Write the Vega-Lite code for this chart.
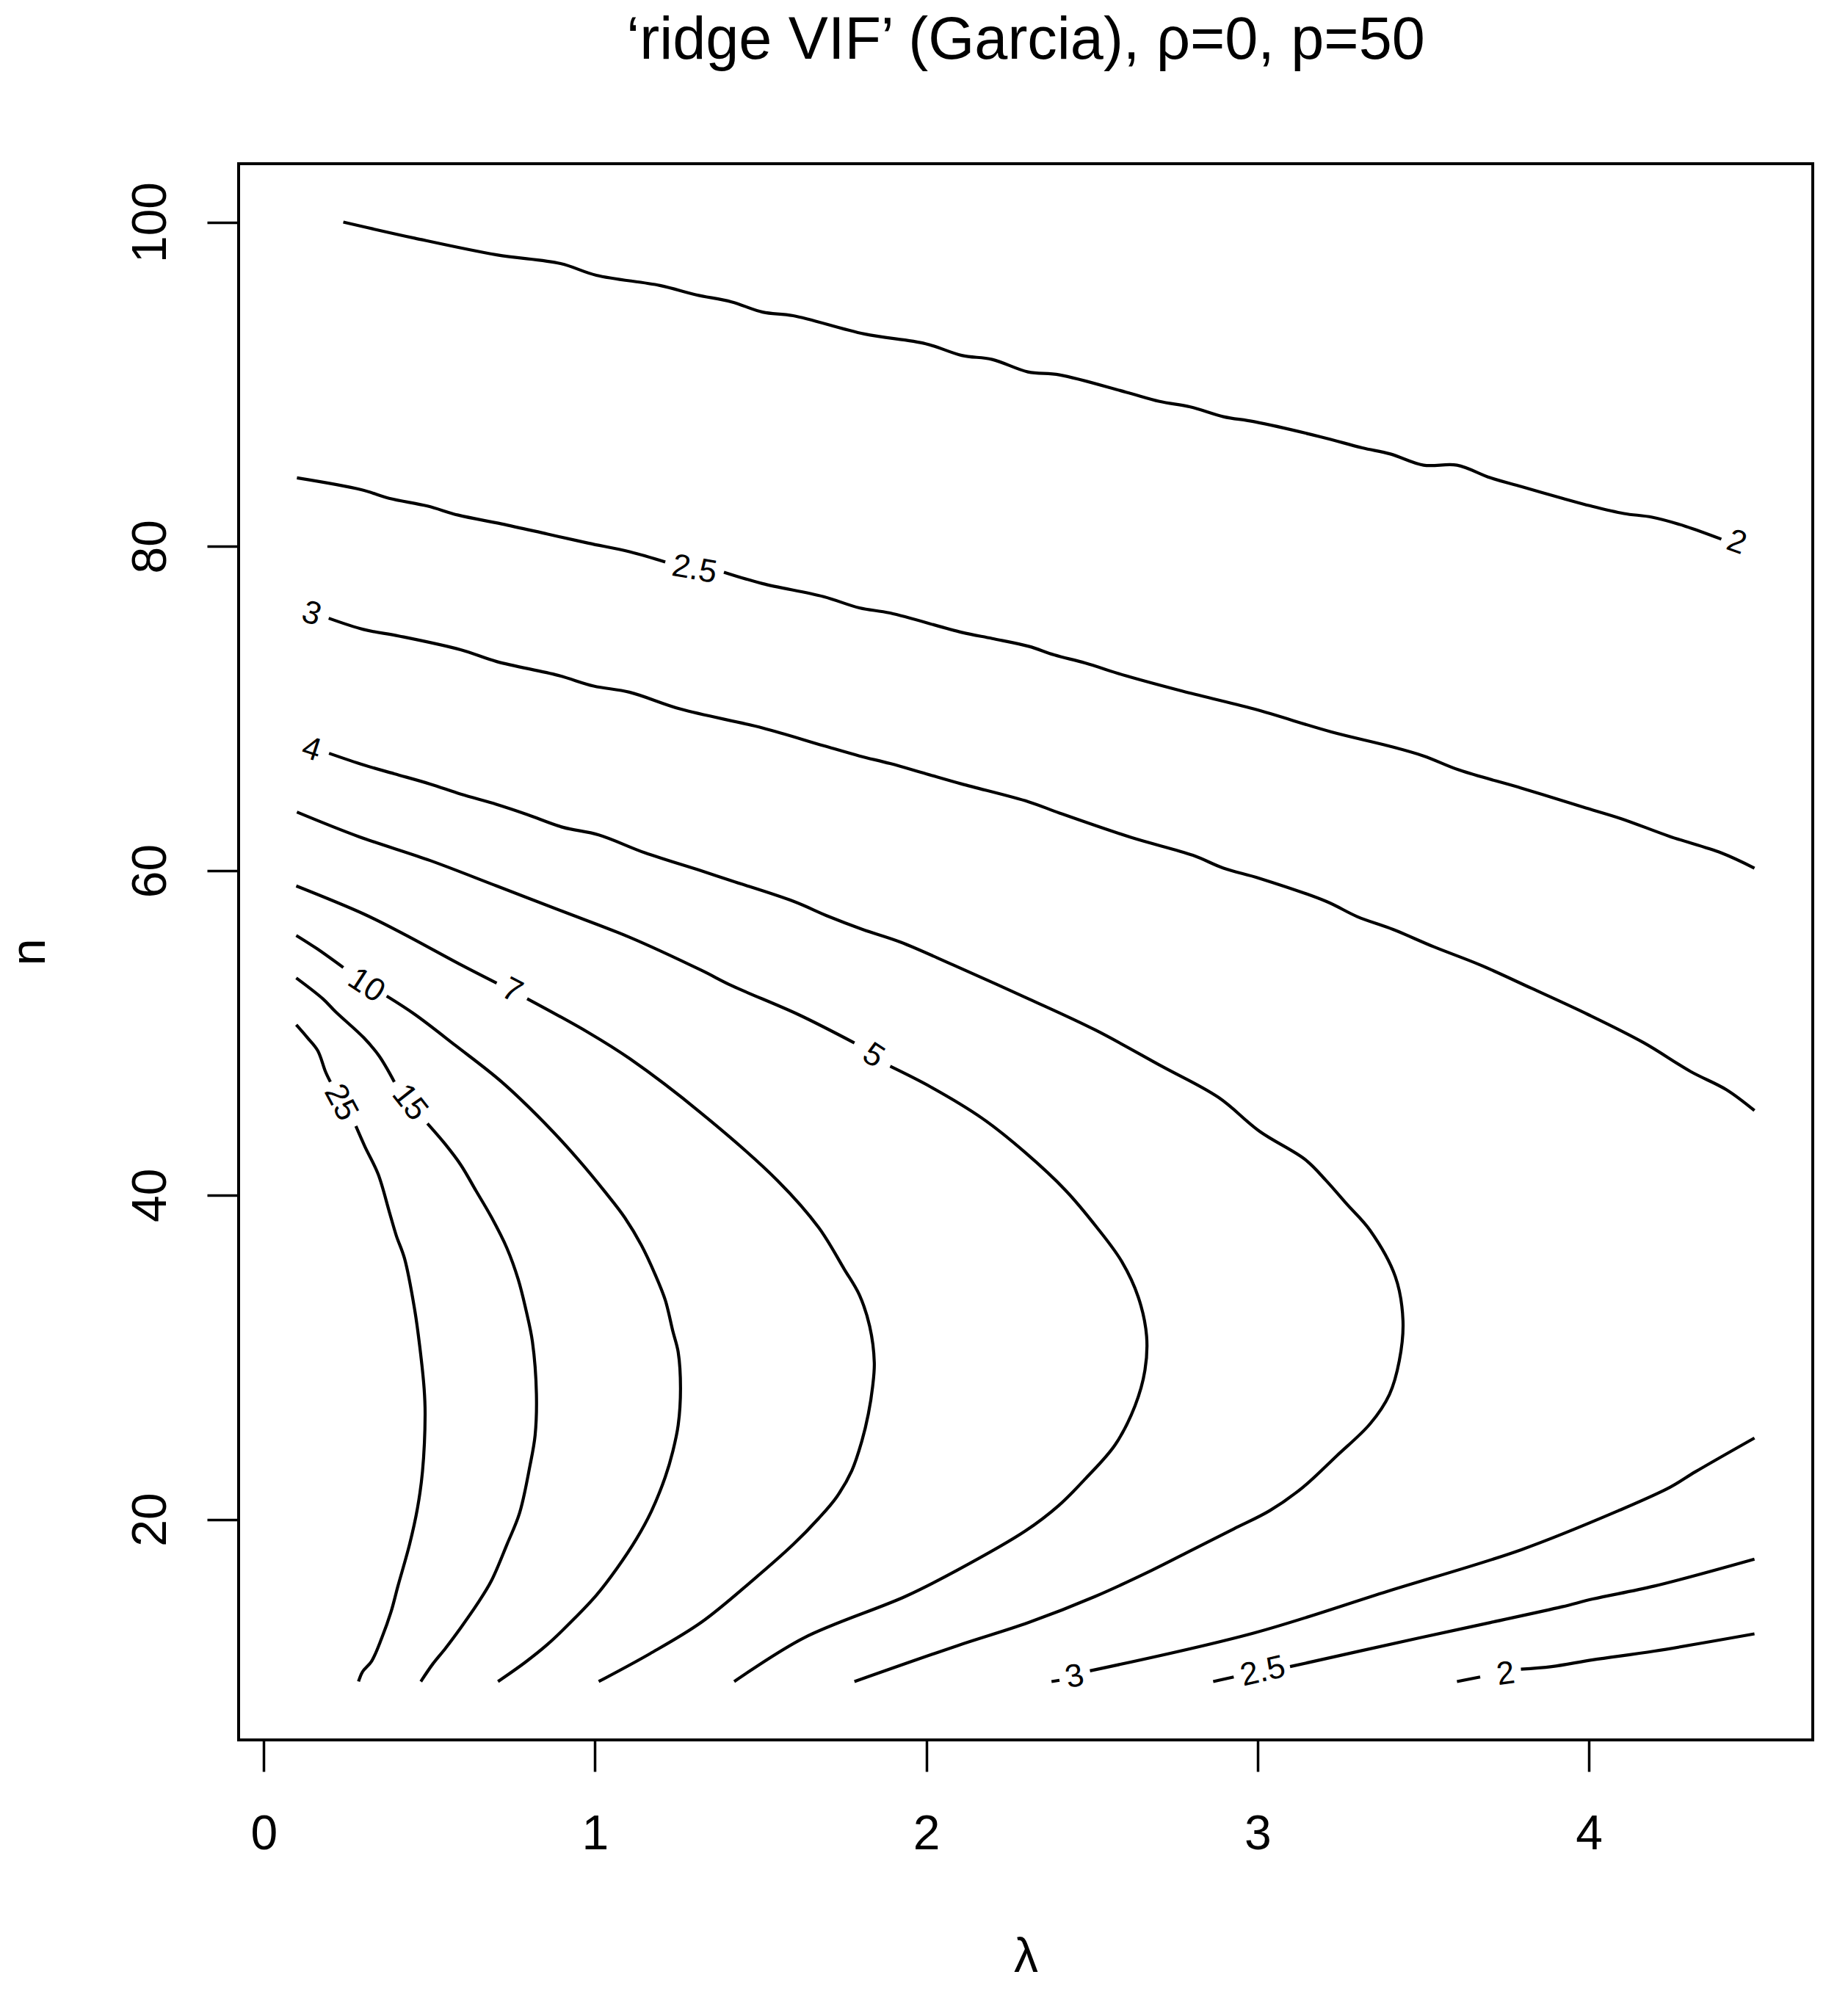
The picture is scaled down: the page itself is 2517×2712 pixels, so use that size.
{
  "$schema": "https://vega.github.io/schema/vega-lite/v6.json",
  "width": 2144,
  "height": 2147,
  "autosize": {"type": "none"},
  "padding": {"left": 325, "top": 223, "right": 48, "bottom": 342},
  "background": "white",
  "config": {"view": {"stroke": "black", "strokeWidth": 4}, "font": "Liberation Sans"},
  "title": {"text": "‘ridge VIF’ (Garcia), ρ=0, p=50", "fontSize": 81, "fontWeight": "normal", "font": "Liberation Sans", "color": "black", "anchor": "middle", "frame": "group", "baseline": "alphabetic", "offset": 62},
  "datasets": {
    "lines": [
      {"seg":"A","i":0,"lambda":0.240,"n":100.0},{"seg":"A","i":1,"lambda":0.455,"n":99.01},{"seg":"A","i":2,"lambda":0.703,"n":97.98},{"seg":"A","i":3,"lambda":0.896,"n":97.44},{"seg":"A","i":4,"lambda":1.004,"n":96.72},{"seg":"A","i":5,"lambda":1.196,"n":96.09},{"seg":"A","i":6,"lambda":1.304,"n":95.52},{"seg":"A","i":7,"lambda":1.412,"n":95.08},{"seg":"A","i":8,"lambda":1.506,"n":94.45},{"seg":"A","i":9,"lambda":1.598,"n":94.23},{"seg":"A","i":10,"lambda":1.813,"n":93.10},{"seg":"A","i":11,"lambda":1.998,"n":92.50},{"seg":"A","i":12,"lambda":2.107,"n":91.78},{"seg":"A","i":13,"lambda":2.199,"n":91.53},{"seg":"A","i":14,"lambda":2.307,"n":90.76},{"seg":"A","i":15,"lambda":2.402,"n":90.58},{"seg":"A","i":16,"lambda":2.603,"n":89.51},{"seg":"A","i":17,"lambda":2.704,"n":88.94},{"seg":"A","i":18,"lambda":2.797,"n":88.60},{"seg":"A","i":19,"lambda":2.897,"n":88.00},{"seg":"A","i":20,"lambda":2.990,"n":87.69},{"seg":"A","i":21,"lambda":3.192,"n":86.75},{"seg":"A","i":22,"lambda":3.316,"n":86.08},{"seg":"A","i":23,"lambda":3.401,"n":85.70},{"seg":"A","i":24,"lambda":3.501,"n":85.01},{"seg":"A","i":25,"lambda":3.602,"n":85.01},{"seg":"A","i":26,"lambda":3.703,"n":84.23},{"seg":"A","i":27,"lambda":3.796,"n":83.69},{"seg":"A","i":28,"lambda":3.920,"n":82.97},{"seg":"A","i":29,"lambda":4.005,"n":82.50},{"seg":"A","i":30,"lambda":4.106,"n":82.03},{"seg":"A","i":31,"lambda":4.191,"n":81.80},{"seg":"A","i":32,"lambda":4.292,"n":81.24},{"seg":"A","i":33,"lambda":4.400,"n":80.45},

      {"seg":"B1","i":0,"lambda":0.100,"n":84.23},{"seg":"B1","i":1,"lambda":0.294,"n":83.50},{"seg":"B1","i":2,"lambda":0.378,"n":82.97},{"seg":"B1","i":3,"lambda":0.494,"n":82.49},{"seg":"B1","i":4,"lambda":0.587,"n":81.93},{"seg":"B1","i":5,"lambda":0.718,"n":81.39},{"seg":"B1","i":6,"lambda":0.857,"n":80.76},{"seg":"B1","i":7,"lambda":0.980,"n":80.20},{"seg":"B1","i":8,"lambda":1.104,"n":79.67},{"seg":"B1","i":9,"lambda":1.212,"n":79.04},
      {"seg":"B2","i":0,"lambda":1.389,"n":78.41},{"seg":"B2","i":1,"lambda":1.505,"n":77.71},{"seg":"B2","i":2,"lambda":1.690,"n":76.90},{"seg":"B2","i":3,"lambda":1.798,"n":76.21},{"seg":"B2","i":4,"lambda":1.891,"n":75.89},{"seg":"B2","i":5,"lambda":2.107,"n":74.70},{"seg":"B2","i":6,"lambda":2.199,"n":74.32},{"seg":"B2","i":7,"lambda":2.309,"n":73.84},{"seg":"B2","i":8,"lambda":2.386,"n":73.31},{"seg":"B2","i":9,"lambda":2.479,"n":72.81},{"seg":"B2","i":10,"lambda":2.603,"n":72.02},{"seg":"B2","i":11,"lambda":2.774,"n":71.07},{"seg":"B2","i":12,"lambda":2.990,"n":69.97},{"seg":"B2","i":13,"lambda":3.223,"n":68.56},{"seg":"B2","i":14,"lambda":3.393,"n":67.71},{"seg":"B2","i":15,"lambda":3.501,"n":67.08},{"seg":"B2","i":16,"lambda":3.610,"n":66.20},{"seg":"B2","i":17,"lambda":3.796,"n":65.10},{"seg":"B2","i":18,"lambda":3.982,"n":63.93},{"seg":"B2","i":19,"lambda":4.098,"n":63.21},{"seg":"B2","i":20,"lambda":4.245,"n":62.11},{"seg":"B2","i":21,"lambda":4.400,"n":61.10},{"seg":"B2","i":22,"lambda":4.500,"n":60.16},

      {"seg":"C","i":0,"lambda":0.196,"n":75.57},{"seg":"C","i":1,"lambda":0.301,"n":74.88},{"seg":"C","i":2,"lambda":0.409,"n":74.47},{"seg":"C","i":3,"lambda":0.594,"n":73.63},{"seg":"C","i":4,"lambda":0.703,"n":72.90},{"seg":"C","i":5,"lambda":0.888,"n":72.05},{"seg":"C","i":6,"lambda":0.996,"n":71.39},{"seg":"C","i":7,"lambda":1.104,"n":71.01},{"seg":"C","i":8,"lambda":1.258,"n":69.97},{"seg":"C","i":9,"lambda":1.505,"n":68.81},{"seg":"C","i":10,"lambda":1.690,"n":67.71},{"seg":"C","i":11,"lambda":1.798,"n":67.08},{"seg":"C","i":12,"lambda":1.891,"n":66.61},{"seg":"C","i":13,"lambda":1.999,"n":65.98},{"seg":"C","i":14,"lambda":2.107,"n":65.35},{"seg":"C","i":15,"lambda":2.309,"n":64.25},{"seg":"C","i":16,"lambda":2.402,"n":63.56},{"seg":"C","i":17,"lambda":2.619,"n":62.05},{"seg":"C","i":18,"lambda":2.805,"n":60.95},{"seg":"C","i":19,"lambda":2.897,"n":60.16},{"seg":"C","i":20,"lambda":3.006,"n":59.53},{"seg":"C","i":21,"lambda":3.207,"n":58.11},{"seg":"C","i":22,"lambda":3.301,"n":57.17},{"seg":"C","i":23,"lambda":3.409,"n":56.38},{"seg":"C","i":24,"lambda":3.532,"n":55.31},{"seg":"C","i":25,"lambda":3.672,"n":54.19},{"seg":"C","i":26,"lambda":3.827,"n":52.75},{"seg":"C","i":27,"lambda":3.997,"n":51.14},{"seg":"C","i":28,"lambda":4.167,"n":49.38},{"seg":"C","i":29,"lambda":4.307,"n":47.62},{"seg":"C","i":30,"lambda":4.415,"n":46.50},{"seg":"C","i":31,"lambda":4.500,"n":45.21},

      {"seg":"D","i":0,"lambda":0.197,"n":67.24},{"seg":"D","i":1,"lambda":0.302,"n":66.52},{"seg":"D","i":2,"lambda":0.394,"n":65.98},{"seg":"D","i":3,"lambda":0.502,"n":65.35},{"seg":"D","i":4,"lambda":0.595,"n":64.72},{"seg":"D","i":5,"lambda":0.703,"n":64.09},{"seg":"D","i":6,"lambda":0.795,"n":63.47},{"seg":"D","i":7,"lambda":0.903,"n":62.68},{"seg":"D","i":8,"lambda":1.011,"n":62.21},{"seg":"D","i":9,"lambda":1.150,"n":61.11},{"seg":"D","i":10,"lambda":1.320,"n":60.00},{"seg":"D","i":11,"lambda":1.412,"n":59.38},{"seg":"D","i":12,"lambda":1.598,"n":58.12},{"seg":"D","i":13,"lambda":1.706,"n":57.17},{"seg":"D","i":14,"lambda":1.806,"n":56.39},{"seg":"D","i":15,"lambda":1.922,"n":55.60},{"seg":"D","i":16,"lambda":2.080,"n":54.20},{"seg":"D","i":17,"lambda":2.309,"n":52.10},{"seg":"D","i":18,"lambda":2.510,"n":50.18},{"seg":"D","i":19,"lambda":2.711,"n":47.94},{"seg":"D","i":20,"lambda":2.882,"n":46.02},{"seg":"D","i":21,"lambda":3.006,"n":43.93},{"seg":"D","i":22,"lambda":3.145,"n":42.17},{"seg":"D","i":23,"lambda":3.207,"n":40.89},{"seg":"D","i":24,"lambda":3.269,"n":39.45},{"seg":"D","i":25,"lambda":3.339,"n":37.84},{"seg":"D","i":26,"lambda":3.416,"n":34.96},{"seg":"D","i":27,"lambda":3.439,"n":32.23},{"seg":"D","i":28,"lambda":3.428,"n":29.80},{"seg":"D","i":29,"lambda":3.398,"n":27.70},{"seg":"D","i":30,"lambda":3.340,"n":25.90},{"seg":"D","i":31,"lambda":3.238,"n":23.90},{"seg":"D","i":32,"lambda":3.137,"n":21.98},{"seg":"D","i":33,"lambda":3.037,"n":20.54},{"seg":"D","i":34,"lambda":2.928,"n":19.41},{"seg":"D","i":35,"lambda":2.804,"n":18.13},{"seg":"D","i":36,"lambda":2.680,"n":16.85},{"seg":"D","i":37,"lambda":2.510,"n":15.25},{"seg":"D","i":38,"lambda":2.309,"n":13.64},{"seg":"D","i":39,"lambda":2.092,"n":12.20},{"seg":"D","i":40,"lambda":1.783,"n":10.0},

      {"seg":"E1","i":0,"lambda":0.100,"n":63.62},{"seg":"E1","i":1,"lambda":0.286,"n":62.11},{"seg":"E1","i":2,"lambda":0.502,"n":60.63},{"seg":"E1","i":3,"lambda":0.703,"n":59.06},{"seg":"E1","i":4,"lambda":0.903,"n":57.49},{"seg":"E1","i":5,"lambda":1.104,"n":55.90},{"seg":"E1","i":6,"lambda":1.320,"n":53.87},{"seg":"E1","i":7,"lambda":1.413,"n":52.91},{"seg":"E1","i":8,"lambda":1.613,"n":51.14},{"seg":"E1","i":9,"lambda":1.783,"n":49.38},
      {"seg":"E2","i":0,"lambda":1.891,"n":47.94},{"seg":"E2","i":1,"lambda":2.014,"n":46.66},{"seg":"E2","i":2,"lambda":2.169,"n":44.73},{"seg":"E2","i":3,"lambda":2.300,"n":42.60},{"seg":"E2","i":4,"lambda":2.420,"n":40.30},{"seg":"E2","i":5,"lambda":2.515,"n":38.00},{"seg":"E2","i":6,"lambda":2.590,"n":35.90},{"seg":"E2","i":7,"lambda":2.640,"n":33.70},{"seg":"E2","i":8,"lambda":2.665,"n":31.30},{"seg":"E2","i":9,"lambda":2.660,"n":29.20},{"seg":"E2","i":10,"lambda":2.630,"n":27.00},{"seg":"E2","i":11,"lambda":2.570,"n":24.60},{"seg":"E2","i":12,"lambda":2.480,"n":22.50},{"seg":"E2","i":13,"lambda":2.400,"n":20.86},{"seg":"E2","i":14,"lambda":2.300,"n":19.30},{"seg":"E2","i":15,"lambda":2.092,"n":16.85},{"seg":"E2","i":16,"lambda":1.937,"n":15.25},{"seg":"E2","i":17,"lambda":1.629,"n":12.68},{"seg":"E2","i":18,"lambda":1.420,"n":10.0},

      {"seg":"F1","i":0,"lambda":0.098,"n":59.06},{"seg":"F1","i":1,"lambda":0.302,"n":57.33},{"seg":"F1","i":2,"lambda":0.425,"n":56.07},{"seg":"F1","i":3,"lambda":0.595,"n":54.20},{"seg":"F1","i":4,"lambda":0.703,"n":53.07},
      {"seg":"F2","i":0,"lambda":0.795,"n":52.11},{"seg":"F2","i":1,"lambda":0.980,"n":50.02},{"seg":"F2","i":2,"lambda":1.104,"n":48.42},{"seg":"F2","i":3,"lambda":1.320,"n":45.06},{"seg":"F2","i":4,"lambda":1.551,"n":40.89},{"seg":"F2","i":5,"lambda":1.675,"n":38.00},{"seg":"F2","i":6,"lambda":1.752,"n":35.44},{"seg":"F2","i":7,"lambda":1.798,"n":33.84},{"seg":"F2","i":8,"lambda":1.829,"n":31.91},{"seg":"F2","i":9,"lambda":1.843,"n":29.67},{"seg":"F2","i":10,"lambda":1.838,"n":28.20},{"seg":"F2","i":11,"lambda":1.825,"n":26.50},{"seg":"F2","i":12,"lambda":1.805,"n":24.80},{"seg":"F2","i":13,"lambda":1.775,"n":23.00},{"seg":"F2","i":14,"lambda":1.730,"n":21.40},{"seg":"F2","i":15,"lambda":1.675,"n":20.06},{"seg":"F2","i":16,"lambda":1.598,"n":18.45},{"seg":"F2","i":17,"lambda":1.474,"n":16.21},{"seg":"F2","i":18,"lambda":1.320,"n":13.64},{"seg":"F2","i":19,"lambda":1.166,"n":11.72},{"seg":"F2","i":20,"lambda":1.011,"n":10.0},

      {"seg":"G1","i":0,"lambda":0.098,"n":56.01},{"seg":"G1","i":1,"lambda":0.160,"n":55.20},{"seg":"G1","i":2,"lambda":0.240,"n":54.03},
      {"seg":"G2","i":0,"lambda":0.371,"n":52.27},{"seg":"G2","i":1,"lambda":0.456,"n":51.14},{"seg":"G2","i":2,"lambda":0.579,"n":49.22},{"seg":"G2","i":3,"lambda":0.718,"n":46.98},{"seg":"G2","i":4,"lambda":0.857,"n":44.25},{"seg":"G2","i":5,"lambda":0.950,"n":42.17},{"seg":"G2","i":6,"lambda":1.030,"n":40.20},{"seg":"G2","i":7,"lambda":1.090,"n":38.60},{"seg":"G2","i":8,"lambda":1.140,"n":36.90},{"seg":"G2","i":9,"lambda":1.181,"n":35.12},{"seg":"G2","i":10,"lambda":1.212,"n":33.52},{"seg":"G2","i":11,"lambda":1.235,"n":31.59},{"seg":"G2","i":12,"lambda":1.251,"n":30.31},{"seg":"G2","i":13,"lambda":1.258,"n":28.07},{"seg":"G2","i":14,"lambda":1.251,"n":25.82},{"seg":"G2","i":15,"lambda":1.235,"n":24.22},{"seg":"G2","i":16,"lambda":1.212,"n":22.62},{"seg":"G2","i":17,"lambda":1.170,"n":20.50},{"seg":"G2","i":18,"lambda":1.125,"n":18.80},{"seg":"G2","i":19,"lambda":1.065,"n":16.95},{"seg":"G2","i":20,"lambda":1.005,"n":15.35},{"seg":"G2","i":21,"lambda":0.934,"n":13.81},{"seg":"G2","i":22,"lambda":0.857,"n":12.30},{"seg":"G2","i":23,"lambda":0.790,"n":11.20},{"seg":"G2","i":24,"lambda":0.707,"n":10.0},

      {"seg":"H1","i":0,"lambda":0.098,"n":53.39},{"seg":"H1","i":1,"lambda":0.178,"n":52.11},{"seg":"H1","i":2,"lambda":0.217,"n":51.30},{"seg":"H1","i":3,"lambda":0.302,"n":49.70},{"seg":"H1","i":4,"lambda":0.348,"n":48.58},{"seg":"H1","i":5,"lambda":0.394,"n":46.98},
      {"seg":"H2","i":0,"lambda":0.494,"n":44.41},{"seg":"H2","i":1,"lambda":0.548,"n":43.13},{"seg":"H2","i":2,"lambda":0.595,"n":41.85},{"seg":"H2","i":3,"lambda":0.641,"n":40.25},{"seg":"H2","i":4,"lambda":0.687,"n":38.64},{"seg":"H2","i":5,"lambda":0.734,"n":36.72},{"seg":"H2","i":6,"lambda":0.768,"n":34.80},{"seg":"H2","i":7,"lambda":0.792,"n":32.87},{"seg":"H2","i":8,"lambda":0.811,"n":30.95},{"seg":"H2","i":9,"lambda":0.823,"n":27.75},{"seg":"H2","i":10,"lambda":0.819,"n":25.18},{"seg":"H2","i":11,"lambda":0.803,"n":23.26},{"seg":"H2","i":12,"lambda":0.772,"n":20.38},{"seg":"H2","i":13,"lambda":0.734,"n":18.45},{"seg":"H2","i":14,"lambda":0.687,"n":16.21},{"seg":"H2","i":15,"lambda":0.645,"n":14.80},{"seg":"H2","i":16,"lambda":0.595,"n":13.33},{"seg":"H2","i":17,"lambda":0.548,"n":12.04},{"seg":"H2","i":18,"lambda":0.510,"n":11.08},{"seg":"H2","i":19,"lambda":0.474,"n":10.0},

      {"seg":"I1","i":0,"lambda":0.098,"n":50.50},{"seg":"I1","i":1,"lambda":0.132,"n":49.70},{"seg":"I1","i":2,"lambda":0.163,"n":48.90},{"seg":"I1","i":3,"lambda":0.186,"n":47.62},{"seg":"I1","i":4,"lambda":0.201,"n":46.98},
      {"seg":"I2","i":0,"lambda":0.278,"n":44.25},{"seg":"I2","i":1,"lambda":0.305,"n":43.00},{"seg":"I2","i":2,"lambda":0.345,"n":41.30},{"seg":"I2","i":3,"lambda":0.379,"n":38.96},{"seg":"I2","i":4,"lambda":0.400,"n":37.50},{"seg":"I2","i":5,"lambda":0.425,"n":36.08},{"seg":"I2","i":6,"lambda":0.456,"n":32.87},{"seg":"I2","i":7,"lambda":0.471,"n":30.63},{"seg":"I2","i":8,"lambda":0.484,"n":28.07},{"seg":"I2","i":9,"lambda":0.487,"n":26.47},{"seg":"I2","i":10,"lambda":0.479,"n":22.94},{"seg":"I2","i":11,"lambda":0.464,"n":20.70},{"seg":"I2","i":12,"lambda":0.440,"n":18.45},{"seg":"I2","i":13,"lambda":0.405,"n":15.89},{"seg":"I2","i":14,"lambda":0.384,"n":14.29},{"seg":"I2","i":15,"lambda":0.356,"n":12.68},{"seg":"I2","i":16,"lambda":0.325,"n":11.24},{"seg":"I2","i":17,"lambda":0.298,"n":10.60},{"seg":"I2","i":18,"lambda":0.286,"n":10.0},

      {"seg":"J0","i":0,"lambda":2.378,"n":10.0},{"seg":"J0","i":1,"lambda":2.402,"n":10.08},
      {"seg":"J","i":0,"lambda":2.494,"n":10.66},{"seg":"J","i":1,"lambda":2.990,"n":13.00},{"seg":"J","i":2,"lambda":3.393,"n":15.57},{"seg":"J","i":3,"lambda":3.796,"n":18.13},{"seg":"J","i":4,"lambda":4.090,"n":20.54},{"seg":"J","i":5,"lambda":4.245,"n":21.98},{"seg":"J","i":6,"lambda":4.322,"n":22.94},{"seg":"J","i":7,"lambda":4.500,"n":25.02},

      {"seg":"K0","i":0,"lambda":2.866,"n":10.0},{"seg":"K0","i":1,"lambda":2.928,"n":10.28},
      {"seg":"K","i":0,"lambda":3.098,"n":10.92},{"seg":"K","i":1,"lambda":3.486,"n":12.68},{"seg":"K","i":2,"lambda":3.703,"n":13.64},{"seg":"K","i":3,"lambda":3.919,"n":14.61},{"seg":"K","i":4,"lambda":4.012,"n":15.09},{"seg":"K","i":5,"lambda":4.198,"n":15.89},{"seg":"K","i":6,"lambda":4.500,"n":17.55},

      {"seg":"L0","i":0,"lambda":3.602,"n":10.0},{"seg":"L0","i":1,"lambda":3.672,"n":10.28},
      {"seg":"L","i":0,"lambda":3.795,"n":10.76},{"seg":"L","i":1,"lambda":3.888,"n":10.92},{"seg":"L","i":2,"lambda":4.012,"n":11.34},{"seg":"L","i":3,"lambda":4.198,"n":11.88},{"seg":"L","i":4,"lambda":4.500,"n":12.94}
    ],
    "labels": [
      {"id":"u2","text":"2","lambda":4.446,"n":80.23},
      {"id":"u25","text":"2.5","lambda":1.300,"n":78.56},
      {"id":"u3","text":"3","lambda":0.144,"n":75.83},
      {"id":"u4","text":"4","lambda":0.144,"n":67.46},
      {"id":"u5","text":"5","lambda":1.840,"n":48.58},
      {"id":"u7","text":"7","lambda":0.749,"n":52.59},
      {"id":"u10","text":"10","lambda":0.309,"n":52.91},
      {"id":"u15","text":"15","lambda":0.440,"n":45.70},
      {"id":"u25b","text":"25","lambda":0.232,"n":45.70},
      {"id":"l3","text":"3","lambda":2.448,"n":10.28},
      {"id":"l25","text":"2.5","lambda":3.016,"n":10.60},
      {"id":"l2","text":"2","lambda":3.749,"n":10.44}
    ]
  },
  "layer": [
    {
      "data": {"name": "lines"},
      "mark": {"type": "line", "stroke": "black", "strokeWidth": 4.2, "strokeJoin": "round", "interpolate": "catmull-rom", "clip": true},
      "encoding": {
        "x": {"field": "lambda", "type": "quantitative",
          "scale": {"domain": [-0.076, 4.676], "nice": false, "zero": false},
          "axis": {"title": "λ", "values": [0,1,2,3,4], "format": "d", "grid": false, "domain": false,
            "tickSize": 43, "tickWidth": 3.5, "tickColor": "black",
            "labelFont": "Liberation Sans", "labelFontSize": 66, "labelColor": "black", "labelPadding": 105,
            "labelBaseline": "alphabetic", "labelAngle": 0, "labelFlush": false, "labelOverlap": false,
            "titleFont": "Liberation Sans", "titleFontSize": 66, "titleFontWeight": "normal", "titleColor": "black",
            "titleBaseline": "alphabetic", "titleY": 315}},
        "y": {"field": "n", "type": "quantitative",
          "scale": {"domain": [6.4, 103.6], "nice": false, "zero": false},
          "axis": {"title": "n", "values": [20,40,60,80,100], "format": "d", "grid": false, "domain": false,
            "tickSize": 43, "tickWidth": 3.5, "tickColor": "black",
            "labelFont": "Liberation Sans", "labelFontSize": 66, "labelColor": "black", "labelPadding": 57,
            "labelAngle": -90, "labelAlign": "center", "labelBaseline": "alphabetic", "labelFlush": false, "labelOverlap": false,
            "titleFont": "Liberation Sans", "titleFontSize": 66, "titleFontWeight": "normal", "titleColor": "black",
            "titleAngle": -90, "titleAlign": "center", "titleBaseline": "alphabetic", "titleX": -265, "titleY": 1073.5}},
        "detail": {"field": "seg", "type": "nominal"},
        "order": {"field": "i", "type": "quantitative"}
      }
    },
    {"data": {"name": "labels"}, "transform": [{"filter": "datum.id == 'u2'"}], "mark": {"type": "text", "fontSize": 44, "font": "Liberation Sans", "align": "center", "baseline": "middle", "angle": 20, "color": "black"}, "encoding": {"x": {"field": "lambda", "type": "quantitative"}, "y": {"field": "n", "type": "quantitative"}, "text": {"field": "text"}}},
    {"data": {"name": "labels"}, "transform": [{"filter": "datum.id == 'u25'"}], "mark": {"type": "text", "fontSize": 44, "font": "Liberation Sans", "align": "center", "baseline": "middle", "angle": 10, "color": "black"}, "encoding": {"x": {"field": "lambda", "type": "quantitative"}, "y": {"field": "n", "type": "quantitative"}, "text": {"field": "text"}}},
    {"data": {"name": "labels"}, "transform": [{"filter": "datum.id == 'u3' || datum.id == 'u4'"}], "mark": {"type": "text", "fontSize": 44, "font": "Liberation Sans", "align": "center", "baseline": "middle", "angle": 18, "color": "black"}, "encoding": {"x": {"field": "lambda", "type": "quantitative"}, "y": {"field": "n", "type": "quantitative"}, "text": {"field": "text"}}},
    {"data": {"name": "labels"}, "transform": [{"filter": "datum.id == 'u5' || datum.id == 'u10'"}], "mark": {"type": "text", "fontSize": 44, "font": "Liberation Sans", "align": "center", "baseline": "middle", "angle": 33, "color": "black"}, "encoding": {"x": {"field": "lambda", "type": "quantitative"}, "y": {"field": "n", "type": "quantitative"}, "text": {"field": "text"}}},
    {"data": {"name": "labels"}, "transform": [{"filter": "datum.id == 'u7'"}], "mark": {"type": "text", "fontSize": 44, "font": "Liberation Sans", "align": "center", "baseline": "middle", "angle": 27, "color": "black"}, "encoding": {"x": {"field": "lambda", "type": "quantitative"}, "y": {"field": "n", "type": "quantitative"}, "text": {"field": "text"}}},
    {"data": {"name": "labels"}, "transform": [{"filter": "datum.id == 'u15'"}], "mark": {"type": "text", "fontSize": 44, "font": "Liberation Sans", "align": "center", "baseline": "middle", "angle": 52, "color": "black"}, "encoding": {"x": {"field": "lambda", "type": "quantitative"}, "y": {"field": "n", "type": "quantitative"}, "text": {"field": "text"}}},
    {"data": {"name": "labels"}, "transform": [{"filter": "datum.id == 'u25b'"}], "mark": {"type": "text", "fontSize": 44, "font": "Liberation Sans", "align": "center", "baseline": "middle", "angle": 62, "color": "black"}, "encoding": {"x": {"field": "lambda", "type": "quantitative"}, "y": {"field": "n", "type": "quantitative"}, "text": {"field": "text"}}},
    {"data": {"name": "labels"}, "transform": [{"filter": "datum.id == 'l3' || datum.id == 'l25'"}], "mark": {"type": "text", "fontSize": 44, "font": "Liberation Sans", "align": "center", "baseline": "middle", "angle": -13, "color": "black"}, "encoding": {"x": {"field": "lambda", "type": "quantitative"}, "y": {"field": "n", "type": "quantitative"}, "text": {"field": "text"}}},
    {"data": {"name": "labels"}, "transform": [{"filter": "datum.id == 'l2'"}], "mark": {"type": "text", "fontSize": 44, "font": "Liberation Sans", "align": "center", "baseline": "middle", "angle": -8, "color": "black"}, "encoding": {"x": {"field": "lambda", "type": "quantitative"}, "y": {"field": "n", "type": "quantitative"}, "text": {"field": "text"}}}
  ]
}
